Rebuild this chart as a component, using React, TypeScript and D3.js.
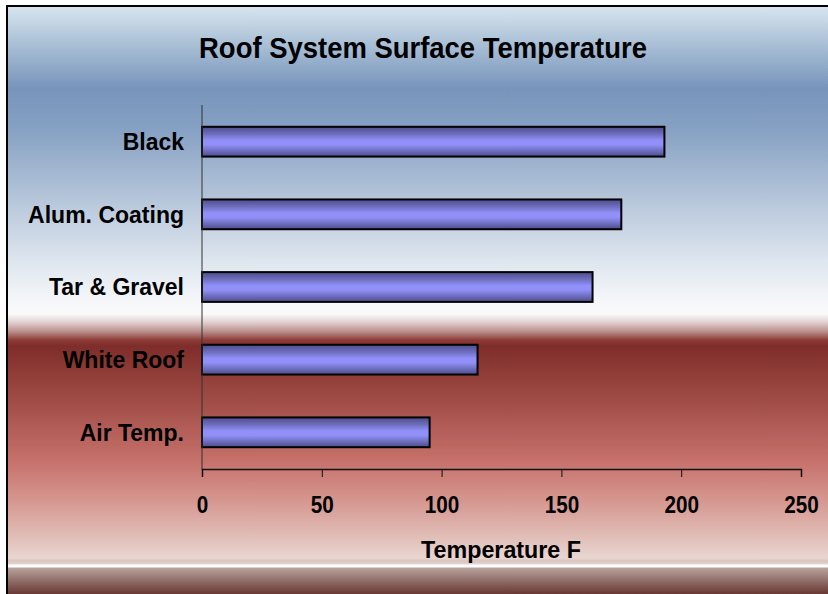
import * as d3 from "d3";
import { useEffect, useRef } from "react";

const W = 828;
const H = 594;

const categories = ["Black", "Alum. Coating", "Tar & Gravel", "White Roof", "Air Temp."];
const temps = [193, 175, 163, 115, 95];
const ticks = [0, 50, 100, 150, 200, 250];

const title = "Roof System Surface Temperature";
const xTitle = "Temperature F";

const FONT = "'Liberation Sans', Arial, sans-serif";

export default function App() {
  const ref = useRef<SVGSVGElement>(null);

  useEffect(() => {
    const svg = d3.select(ref.current);
    svg.selectAll("*").remove();

    const defs = svg.append("defs");

    // background: blue sky fading to white, then a dark red band fading to pink
    const bg = defs
      .append("linearGradient")
      .attr("id", "bg")
      .attr("gradientUnits", "userSpaceOnUse")
      .attr("x1", 0)
      .attr("y1", 7)
      .attr("x2", 0)
      .attr("y2", H);
    const bgStops: [number, string][] = [
      [7, "#d6e4ee"],
      [50, "#a3bad2"],
      [88, "#7794bb"],
      [130, "#86a1c3"],
      [200, "#b6c6da"],
      [260, "#dde5ee"],
      [300, "#f4f6f9"],
      [314, "#fafafa"],
      [322, "#e2d2d1"],
      [332, "#b88b88"],
      [340, "#8d3c37"],
      [346, "#7f2d2a"],
      [400, "#a04c46"],
      [460, "#c6706a"],
      [500, "#d5968f"],
      [535, "#e0bcb5"],
      [558, "#e9d6d0"],
      [561, "#d7c4be"],
      [564, "#e6d4ce"],
      [565, "#ffffff"],
      [567, "#ffffff"],
      [568, "#b8a29c"],
      [594, "#683833"],
    ];
    bgStops.forEach(([y, c]) =>
      bg
        .append("stop")
        .attr("offset", (y - 7) / (H - 7))
        .attr("stop-color", c)
    );

    const bar = defs
      .append("linearGradient")
      .attr("id", "bar")
      .attr("x1", 0)
      .attr("y1", 0)
      .attr("x2", 0)
      .attr("y2", 1);
    [
      [0, "#4c4c8a"],
      [0.25, "#6f6fc0"],
      [0.45, "#9090f8"],
      [0.6, "#9090f8"],
      [0.8, "#6f6fc0"],
      [1, "#4c4c8a"],
    ].forEach(([o, c]) => bar.append("stop").attr("offset", o).attr("stop-color", c as string));

    svg.append("rect").attr("width", W).attr("height", H).attr("fill", "#ffffff");
    svg
      .append("rect")
      .attr("x", 8)
      .attr("y", 7)
      .attr("width", W - 8)
      .attr("height", H - 7)
      .attr("fill", "url(#bg)");
    svg
      .append("path")
      .attr("d", `M7,${H} V6 H${W}`)
      .attr("fill", "none")
      .attr("stroke", "#000")
      .attr("stroke-width", 2);

    const x = d3.scaleLinear().domain([0, 250]).range([202, 801]);
    const y = d3.scaleBand().domain(categories).range([105, 469]).paddingInner(0.59).paddingOuter(0.3);

    // narrow text, like the original's condensed Arial
    svg
      .append("text")
      .attr("transform", "translate(423,58) scale(0.915,1)")
      .attr("text-anchor", "middle")
      .attr("font-family", FONT)
      .attr("font-weight", "bold")
      .attr("font-size", 30)
      .text(title);

    svg
      .append("g")
      .selectAll("rect")
      .data(categories)
      .join("rect")
      .attr("x", x(0))
      .attr("y", (d) => y(d)!)
      .attr("width", (_, i) => x(temps[i]) - x(0))
      .attr("height", y.bandwidth())
      .attr("fill", "url(#bar)")
      .attr("stroke", "#000")
      .attr("stroke-width", 2);

    svg
      .append("line")
      .attr("x1", x(0))
      .attr("x2", x(0))
      .attr("y1", 105)
      .attr("y2", 470)
      .attr("stroke", "#333")
      .attr("stroke-width", 1);

    const xa = svg
      .append("g")
      .attr("transform", `translate(0,469)`)
      .call(
        d3
          .axisBottom(x)
          .tickValues(ticks)
          .tickSize(8)
          .tickPadding(20)
          .tickFormat((d) => String(d))
      );
    xa.select(".domain").attr("stroke", "#111").attr("stroke-width", 1.5);
    xa.selectAll(".tick line").attr("stroke", "#111").attr("stroke-width", 1);
    xa.selectAll(".tick text")
      .attr("font-family", FONT)
      .attr("font-weight", "bold")
      .attr("font-size", 23)
      .attr("transform", "scale(0.9,1)")
      .attr("fill", "#000");

    svg
      .append("g")
      .selectAll("text")
      .data(categories)
      .join("text")
      .attr("transform", (d) => `translate(184,${y(d)! + y.bandwidth() / 2})`)
      .attr("dy", "0.36em")
      .attr("text-anchor", "end")
      .attr("font-family", FONT)
      .attr("font-weight", "bold")
      .attr("font-size", 23)
      .text((d) => d);

    svg
      .append("text")
      .attr("transform", "translate(501,558) scale(0.97,1)")
      .attr("text-anchor", "middle")
      .attr("font-family", FONT)
      .attr("font-weight", "bold")
      .attr("font-size", 24)
      .text(xTitle);
  }, []);

  return (
    <svg
      ref={ref}
      width={W}
      height={H}
      style={{ position: "absolute", left: 0, top: 0, display: "block" }}
    />
  );
}
